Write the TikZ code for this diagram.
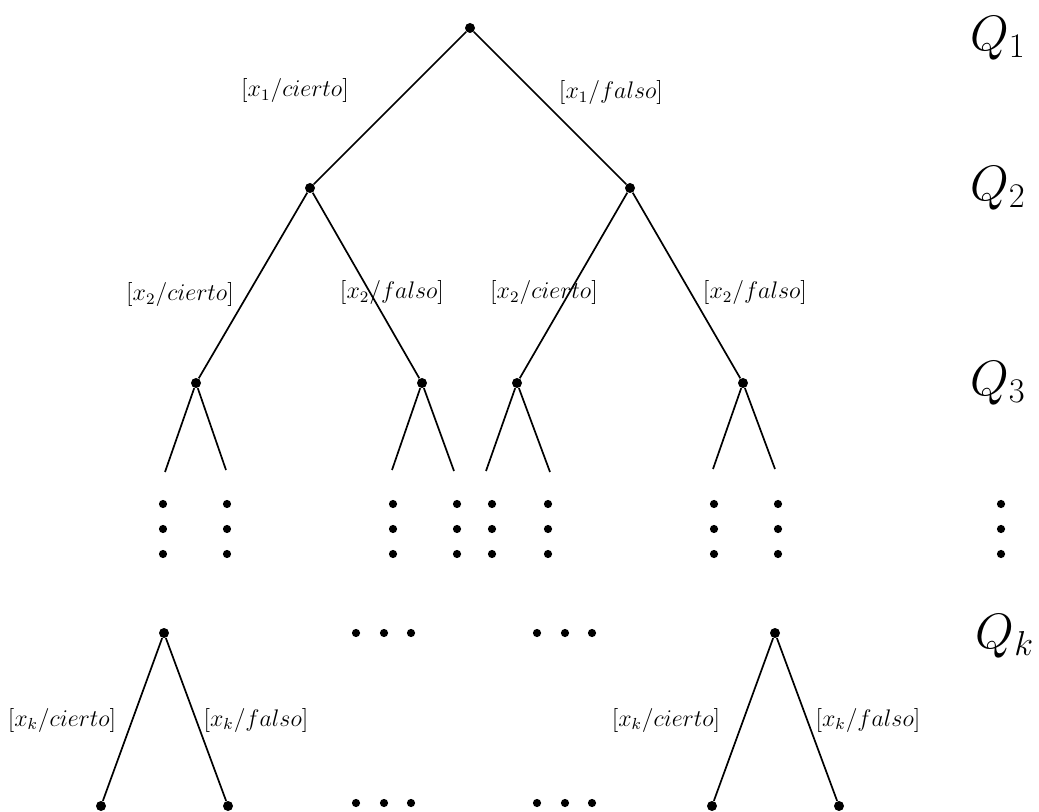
\documentclass[tikz,border=0pt]{standalone}
\begin{document}
\begin{tikzpicture}[x=0.5pt,y=-0.5pt,
  vertex/.style={circle,fill=black,inner sep=0pt,minimum size=5pt},
  ell/.style={circle,fill=black,inner sep=0pt,minimum size=4.1pt},
  branch/.style={line width=0.85pt},
  lbl/.style={inner sep=0pt,font=\fontsize{11.5}{14}\selectfont},
  lvl/.style={inner sep=0pt,font=\fontsize{26}{30}\selectfont}]
\useasboundingbox (0,0) rectangle (1039,812);

% tree vertices
\node[vertex] (r) at (470,28) {};
\node[vertex] (a) at (310,188) {};
\node[vertex] (b) at (630,188) {};
\node[vertex] (aa) at (196,383) {};
\node[vertex] (ab) at (422,383) {};
\node[vertex] (ba) at (517,383) {};
\node[vertex] (bb) at (743,383) {};
\node[vertex] (k1) at (164,633) {};
\node[vertex] (k2) at (775,633) {};
\node[vertex] (l1) at (101,806) {};
\node[vertex] (l2) at (228,806) {};
\node[vertex] (l3) at (712,806) {};
\node[vertex] (l4) at (839,806) {};

% open ends of the third-level branches
\coordinate (s1) at (165,472);
\coordinate (s2) at (226,470);
\coordinate (s3) at (392,470);
\coordinate (s4) at (454,471);
\coordinate (s5) at (486,471);
\coordinate (s6) at (550,472);
\coordinate (s7) at (713,469);
\coordinate (s8) at (775,469);

% branches
\draw[branch] (r) -- (a);
\draw[branch] (r) -- (b);
\draw[branch] (a) -- (aa);
\draw[branch] (a) -- (ab);
\draw[branch] (b) -- (ba);
\draw[branch] (b) -- (bb);
\draw[branch] (aa) -- (s1);
\draw[branch] (aa) -- (s2);
\draw[branch] (ab) -- (s3);
\draw[branch] (ab) -- (s4);
\draw[branch] (ba) -- (s5);
\draw[branch] (ba) -- (s6);
\draw[branch] (bb) -- (s7);
\draw[branch] (bb) -- (s8);
\draw[branch] (k1) -- (l1);
\draw[branch] (k1) -- (l2);
\draw[branch] (k2) -- (l3);
\draw[branch] (k2) -- (l4);

% vertical ellipses
\foreach \c/\x in {1/163,2/227,3/393,4/457,5/492,6/548,7/714,8/778,9/1001}{
  \foreach \r/\y in {1/504,2/529,3/554}{
    \node[ell] (v\c-\r) at (\x,\y) {};
  }
}

% horizontal ellipses
\foreach \c/\y in {1/633,2/803}{
  \foreach \r/\x in {1/356,2/384,3/411,4/537,5/565,6/592}{
    \node[ell] (h\c-\r) at (\x,\y) {};
  }
}

% branch labels
\node[lbl] (t1) at (295,91) {$[x_1/cierto]$};
\node[lbl] (t2) at (611,93) {$[x_1/falso]$};
\node[lbl] (t3) at (180,295) {$[x_2/cierto]$};
\node[lbl] (t4) at (392,293) {$[x_2/falso]$};
\node[lbl] (t5) at (544,293) {$[x_2/cierto]$};
\node[lbl] (t6) at (755,293) {$[x_2/falso]$};
\node[lbl] (t7) at (62,720) {$[x_k/cierto]$};
\node[lbl] (t8) at (256,720) {$[x_k/falso]$};
\node[lbl] (t9) at (666,720) {$[x_k/cierto]$};
\node[lbl] (t10) at (868,720) {$[x_k/falso]$};

% level names
\node[lvl] (q1) at (998,38) {$Q_1$};
\node[lvl] (q2) at (998,188) {$Q_2$};
\node[lvl] (q3) at (998,383) {$Q_3$};
\node[lvl] (qk) at (1005,636) {$Q_k$};
\end{tikzpicture}
\end{document}
